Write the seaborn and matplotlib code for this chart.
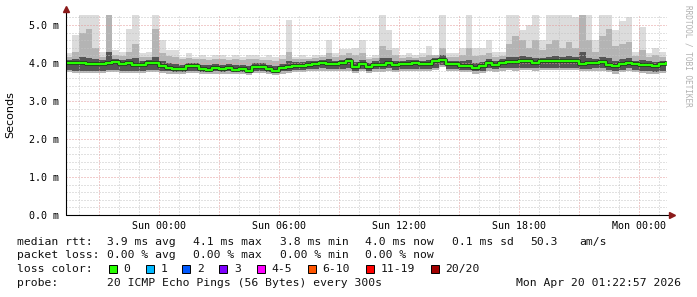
import numpy as np
import pandas as pd
import matplotlib
matplotlib.use("Agg")
import matplotlib.pyplot as plt
import matplotlib.dates as mdates
from matplotlib.ticker import MultipleLocator, FuncFormatter
from matplotlib.patches import Rectangle
import seaborn as sns

# ---------------- data (ms, 20-minute steps from Sat 19:20) ----------------
start_time = "2026-04-18 19:20"
step = "20min"

median_ms = [4.01, 4.01, 4.01, 3.97, 3.97, 3.97, 3.99, 4.03, 3.97, 3.99,
             3.95, 3.95, 4.01, 4.00, 3.92, 3.88, 3.85, 3.83, 3.92, 3.92,
             3.84, 3.82, 3.88, 3.83, 3.88, 3.82, 3.84, 3.80, 3.90, 3.90,
             3.84, 3.80, 3.88, 3.90, 3.92, 3.92, 3.96, 3.97, 4.01, 3.98,
             3.97, 3.99, 4.06, 3.89, 3.97, 3.90, 3.95, 3.95, 4.01, 3.94,
             3.97, 3.98, 3.99, 3.97, 3.98, 4.04, 4.08, 3.97, 3.97, 3.92,
             3.92, 3.88, 3.91, 4.00, 3.95, 4.01, 4.03, 4.02, 4.06, 4.05,
             4.01, 4.04, 4.05, 4.05, 4.06, 4.06, 4.06, 3.97, 3.99, 4.01,
             4.02, 3.96, 3.92, 3.97, 4.01, 3.97, 3.96, 3.95, 3.92, 3.98,
             4.01]

max_ms = [4.26, 4.74, 5.26, 5.26, 5.26, 4.30, 5.26, 4.35, 4.30, 4.90,
          5.26, 4.26, 4.30, 5.26, 4.60, 4.33, 4.33, 4.17, 4.25, 4.17,
          4.20, 4.17, 4.20, 4.20, 4.15, 4.20, 4.15, 4.20, 4.20, 4.17,
          4.20, 4.15, 4.20, 5.13, 4.17, 4.20, 4.17, 4.20, 4.20, 4.60,
          4.25, 4.38, 4.38, 4.40, 4.60, 4.17, 4.20, 5.26, 4.87, 4.40,
          4.20, 4.25, 4.20, 4.25, 4.45, 4.20, 5.26, 4.25, 4.25, 4.40,
          5.26, 4.40, 4.40, 4.60, 4.30, 4.30, 5.26, 5.26, 4.87, 5.00,
          5.26, 4.60, 5.26, 5.26, 5.26, 5.26, 5.20, 5.26, 5.26, 4.60,
          5.26, 5.26, 4.87, 5.10, 5.20, 4.30, 4.94, 4.25, 4.40, 4.30,
          4.30]

p80_ms = [4.15, 4.30, 4.80, 4.90, 4.40, 4.15, 5.26, 4.20, 4.18, 4.30,
          4.50, 4.15, 4.15, 4.90, 4.25, 4.18, 4.15, 4.10, 4.12, 4.10,
          4.10, 4.08, 4.10, 4.10, 4.08, 4.10, 4.08, 4.10, 4.10, 4.08,
          4.08, 4.06, 4.10, 4.30, 4.10, 4.10, 4.10, 4.12, 4.15, 4.25,
          4.15, 4.20, 4.25, 4.20, 4.25, 4.10, 4.12, 4.45, 4.35, 4.20,
          4.12, 4.15, 4.12, 4.15, 4.20, 4.20, 4.40, 4.15, 4.15, 4.20,
          4.40, 4.18, 4.20, 4.25, 4.15, 4.18, 4.50, 4.70, 4.60, 4.40,
          4.60, 4.35, 4.50, 4.60, 4.40, 4.55, 4.40, 5.26, 4.60, 4.30,
          4.70, 4.90, 4.45, 4.50, 4.55, 4.18, 4.35, 4.15, 4.20, 4.15,
          4.15]

q3_ms = [4.08, 4.10, 4.15, 4.12, 4.10, 4.08, 4.30, 4.10, 4.07, 4.10,
         4.12, 4.06, 4.08, 4.15, 4.05, 4.00, 3.98, 3.96, 4.00, 4.00,
         3.96, 3.94, 3.98, 3.96, 3.98, 3.94, 3.96, 3.93, 4.00, 4.00,
         3.96, 3.93, 3.98, 4.05, 4.02, 4.02, 4.05, 4.06, 4.08, 4.10,
         4.06, 4.08, 4.14, 4.02, 4.07, 4.00, 4.05, 4.12, 4.12, 4.04,
         4.06, 4.07, 4.07, 4.06, 4.08, 4.12, 4.20, 4.06, 4.06, 4.04,
         4.08, 4.00, 4.02, 4.10, 4.05, 4.10, 4.15, 4.16, 4.18, 4.15,
         4.14, 4.14, 4.16, 4.18, 4.16, 4.18, 4.15, 4.30, 4.12, 4.10,
         4.16, 4.12, 4.05, 4.10, 4.12, 4.06, 4.08, 4.04, 4.02, 4.06,
         4.08]

q1_ms = [3.82, 3.80, 3.80, 3.80, 3.80, 3.80, 3.82, 3.82, 3.80, 3.80,
         3.80, 3.80, 3.82, 3.82, 3.80, 3.78, 3.76, 3.76, 3.80, 3.80,
         3.76, 3.75, 3.78, 3.76, 3.78, 3.75, 3.76, 3.74, 3.80, 3.80,
         3.76, 3.74, 3.78, 3.80, 3.82, 3.82, 3.84, 3.84, 3.86, 3.84,
         3.84, 3.85, 3.86, 3.80, 3.84, 3.80, 3.83, 3.83, 3.86, 3.82,
         3.84, 3.85, 3.85, 3.84, 3.85, 3.88, 3.95, 3.84, 3.84, 3.82,
         3.82, 3.78, 3.80, 3.86, 3.83, 3.86, 3.87, 3.86, 3.88, 3.88,
         3.86, 3.88, 3.88, 3.88, 3.88, 3.88, 3.88, 3.84, 3.85, 3.86,
         3.86, 3.82, 3.78, 3.82, 3.86, 3.82, 3.80, 3.78, 3.76, 3.80,
         3.84]

min_ms = [3.76, 3.74, 3.73, 3.73, 3.74, 3.74, 3.76, 3.76, 3.74, 3.74,
          3.74, 3.74, 3.76, 3.76, 3.74, 3.72, 3.71, 3.71, 3.74, 3.74,
          3.71, 3.70, 3.72, 3.71, 3.72, 3.70, 3.71, 3.69, 3.74, 3.74,
          3.71, 3.69, 3.72, 3.74, 3.76, 3.76, 3.78, 3.78, 3.80, 3.78,
          3.78, 3.79, 3.80, 3.74, 3.78, 3.74, 3.77, 3.77, 3.80, 3.76,
          3.78, 3.79, 3.79, 3.78, 3.79, 3.82, 3.90, 3.78, 3.78, 3.76,
          3.76, 3.72, 3.74, 3.80, 3.77, 3.80, 3.81, 3.80, 3.82, 3.82,
          3.80, 3.82, 3.82, 3.82, 3.82, 3.82, 3.82, 3.78, 3.79, 3.80,
          3.80, 3.76, 3.72, 3.76, 3.80, 3.76, 3.74, 3.72, 3.70, 3.74,
          3.78]

loss_labels = ["0", "1", "2", "3", "4-5", "6-10", "11-19", "20/20"]
loss_colors = ["#26ff00", "#00b8ff", "#0059ff", "#7e00ff", "#ff00ff",
               "#ff5500", "#ff0000", "#a10000"]

legend_rtt = ["3.9 ms avg", "4.1 ms max", "3.8 ms min", "4.0 ms now",
              "0.1 ms sd", "50.3", "am/s"]
legend_loss = ["0.00 % avg", "0.00 % max", "0.00 % min", "0.00 % now"]
probe_text = "20 ICMP Echo Pings (56 Bytes) every 300s"
stamp_text = "Mon Apr 20 01:22:57 2026"

# ---------------- figure ----------------
W, H = 697, 297
sns.set_theme(style="white")
plt.rcParams['font.family'] = ['DejaVu Sans Mono', 'DejaVu Sans']

times = pd.date_range(start_time, periods=len(median_ms), freq=step)
df = pd.DataFrame({"time": times, "median": median_ms, "max": max_ms,
                   "p80": p80_ms, "q3": q3_ms, "q1": q1_ms, "min": min_ms})

fig = plt.figure(figsize=(W / 100, H / 100), dpi=100)
fig.patch.set_facecolor("white")
ax = fig.add_axes([66 / W, (H - 215) / H, 601 / W, 200 / H])
ax.set_facecolor("white")

ax.fill_between(df["time"], df["min"], df["max"], step="post",
                color="#dcdcdc", lw=0, zorder=1)
ax.fill_between(df["time"], df["min"], df["p80"], step="post",
                color="#b4b4b4", lw=0, zorder=1.1)
ax.fill_between(df["time"], df["q1"], df["q3"], step="post",
                color="#555555", lw=0, zorder=1.2)

sns.lineplot(data=df, x="time", y="median", ax=ax, drawstyle="steps-post",
             color="#1a1a1a", lw=2.6, zorder=3, estimator=None)
sns.lineplot(data=df, x="time", y="median", ax=ax, drawstyle="steps-post",
             color="#26ff00", lw=1.7, zorder=3.1, estimator=None)

t0 = pd.Timestamp("2026-04-18 19:21")
t1 = pd.Timestamp("2026-04-20 01:24")
ax.set_xlim(t0, t1)
ax.set_ylim(0, 5.263)

# grid
ax.yaxis.set_major_locator(MultipleLocator(1.0))
ax.yaxis.set_minor_locator(MultipleLocator(0.2))
ax.yaxis.set_major_formatter(FuncFormatter(lambda v, p: f"{v:.1f} m"))
ax.xaxis.set_major_locator(mdates.HourLocator(byhour=range(0, 24, 3)))
ax.xaxis.set_minor_locator(mdates.HourLocator())


def xfmt(v, p):
    d = mdates.num2date(v)
    if d.hour % 6 == 0:
        return d.strftime("%a %H:%M")
    return ""


ax.xaxis.set_major_formatter(FuncFormatter(xfmt))
ax.set_axisbelow(False)
ax.grid(which="minor", color="#c4c4c4", linestyle=(0, (1, 2)), lw=0.72)
ax.grid(which="major", color="#e59a9a", linestyle=(0, (1, 2)), lw=0.72)
for gl in ax.get_xgridlines() + ax.get_ygridlines():
    gl.set_zorder(2.5)

ax.set_xlabel("")
ax.set_ylabel("")
for s in ax.spines.values():
    s.set_visible(False)

ax.tick_params(axis="both", which="both", direction="out", colors="#000000",
               labelsize=7.2, width=0.7)
ax.tick_params(axis="both", which="major", length=2.5)
ax.tick_params(axis="both", which="minor", length=1.5, colors="#888888")
ax.tick_params(axis="y", pad=2.6)
ax.tick_params(axis="x", pad=2.0)
for lab in ax.get_xticklabels() + ax.get_yticklabels():
    lab.set_fontfamily("DejaVu Sans Mono")

# axis lines with arrows
ax.plot([0, 0], [0, 1.025], color="black", lw=0.8, transform=ax.transAxes,
        clip_on=False, zorder=4)
ax.plot([0, 1.006], [0, 0], color="black", lw=0.8, transform=ax.transAxes,
        clip_on=False, zorder=4)
ax.plot([0], [1.03], marker="^", ms=4, color="#8b1a1a",
        transform=ax.transAxes, clip_on=False, zorder=5)
ax.plot([1.009], [0], marker=">", ms=4, color="#8b1a1a",
        transform=ax.transAxes, clip_on=False, zorder=5)

# y label and watermark
fig.text(10 / W, 1 - 115 / H, "Seconds", rotation=90, ha="center",
         va="center", fontsize=8, family="DejaVu Sans", color="black")
fig.text(688 / W, 1 - 5 / H, "RRDTOOL / TOBI OETIKER", rotation=270,
         ha="center", va="top", fontsize=5.6, color="#b0b0b0",
         family="DejaVu Sans Mono")

# legend block
fs = 8.2


def ftxt(x, y, s, **kw):
    fig.text(x / W, 1 - y / H, s, fontsize=fs, va="center",
             family="DejaVu Sans Mono", color="#111111", **kw)


col_x = [107.3, 193.0, 279.5, 365.0, 451.5, 530.0, 579.3]
ftxt(16.7, 241.7, "median rtt:")
for x, s in zip(col_x, legend_rtt):
    ftxt(x, 241.7, s)
ftxt(16.7, 255.4, "packet loss:")
for x, s in zip(col_x, legend_loss):
    ftxt(x, 255.4, s)
ftxt(16.7, 269.3, "loss color:")
sw_x = [108.6, 145.6, 182.4, 219.4, 256.8, 307.6, 365.6, 430.8]
for x, c, lab in zip(sw_x, loss_colors, loss_labels):
    fig.patches.append(Rectangle((x / W, 1 - 273.3 / H), 8 / W, 8 / H,
                                 transform=fig.transFigure, facecolor=c,
                                 edgecolor="black", lw=0.7))
    ftxt(x + 14.6, 269.3, lab)
ftxt(16.7, 282.8, "probe:")
ftxt(107.3, 282.8, probe_text)
ftxt(680.5, 282.8, stamp_text, ha="right")

fig.savefig("out.png", dpi=100, facecolor="white")
